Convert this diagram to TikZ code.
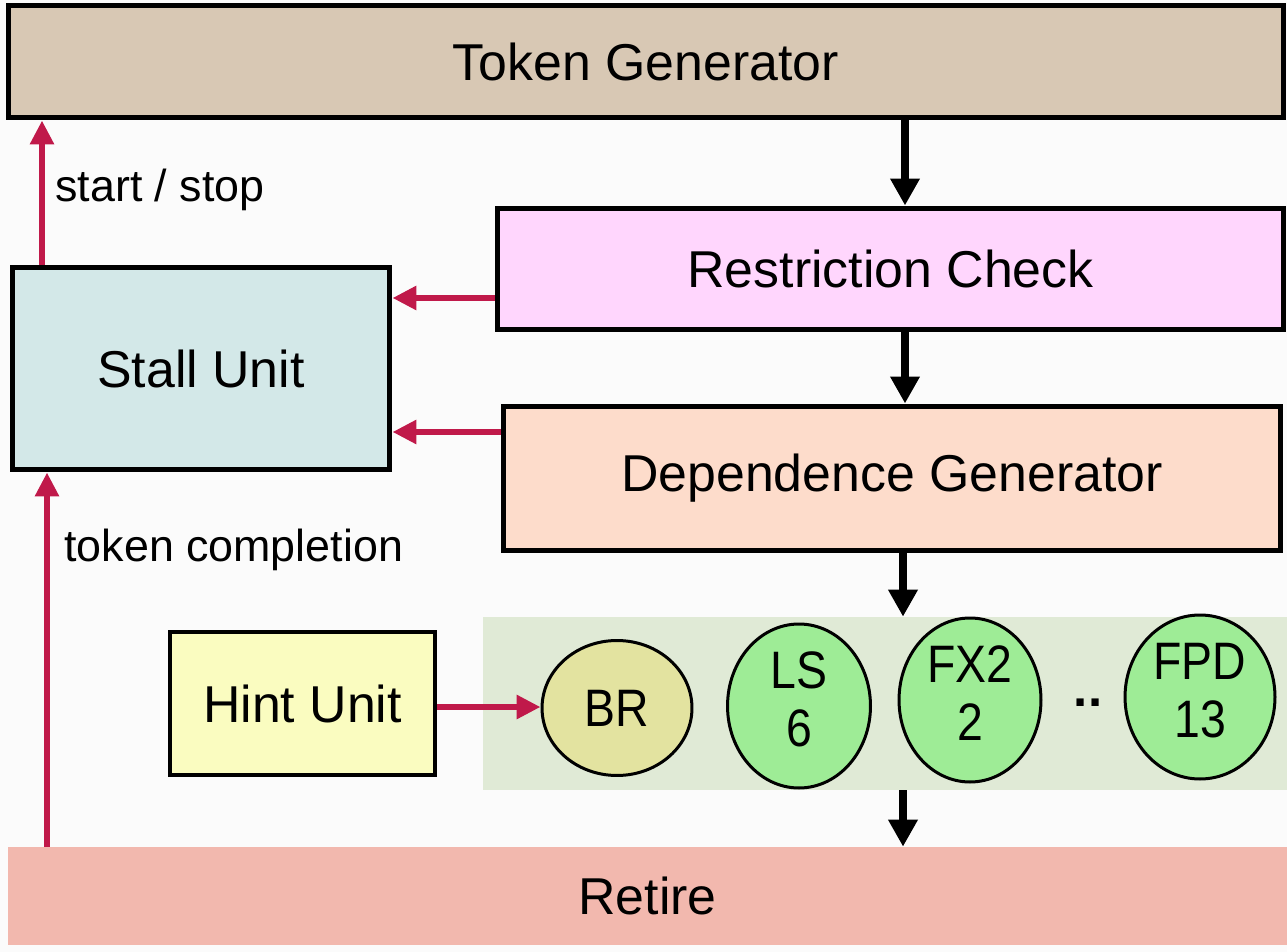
\documentclass[tikz,border=0pt]{standalone}
\usepackage{fontspec}
\setmainfont{Liberation Sans}
\usetikzlibrary{arrows.meta,shapes.geometric}

\definecolor{bgc}{RGB}{251,251,251}
\definecolor{tgfill}{RGB}{216,200,180}
\definecolor{rcfill}{RGB}{255,214,253}
\definecolor{dgfill}{RGB}{253,220,203}
\definecolor{stfill}{RGB}{211,232,232}
\definecolor{hintfill}{RGB}{250,252,192}
\definecolor{panelfill}{RGB}{224,234,214}
\definecolor{retfill}{RGB}{242,184,174}
\definecolor{brfill}{RGB}{227,227,160}
\definecolor{fufill}{RGB}{158,236,150}
\definecolor{sig}{RGB}{192,25,74}

% narrow two-line label for the functional units
\newcommand{\fulabel}[1]{\scalebox{0.88}[1]{\begin{tabular}{@{}c@{}}#1\end{tabular}}}

\begin{document}
\begin{tikzpicture}[x=0.02cm,y=-0.02cm,
  bigfont/.style={font=\fontsize{29.5}{35}\selectfont},
  unitbox/.style={draw=black,line width=0.1cm,inner sep=0pt,bigfont},
  fu/.style={ellipse,draw=black,line width=0.06cm,inner sep=0pt,
             font=\fontsize{30}{33}\selectfont},
  flow/.style={line width=0.16cm,-{Triangle[width=0.56cm,length=0.54cm]}},
  signal/.style={draw=sig,line width=0.13cm,-{Triangle[width=0.46cm,length=0.48cm]}},
  lbl/.style={font=\fontsize{25.5}{30}\selectfont,anchor=west,inner sep=0pt}]

% canvas
\fill[bgc] (0,0) rectangle (1287,952);
\useasboundingbox (0,0) rectangle (1287,952);

% pipeline stages
\node[unitbox,fill=tgfill,minimum width=25.52cm,minimum height=2.26cm] (tg) at (646,61.5) {Token Generator};
\node[unitbox,fill=rcfill,minimum width=15.74cm,minimum height=2.44cm] (rc) at (890.5,269) {Restriction Check};
\node[unitbox,fill=dgfill,minimum width=15.56cm,minimum height=2.9cm] (dg) at (892,478.5) {Dependence Generator};
\node[unitbox,fill=stfill,minimum width=7.56cm,minimum height=4.06cm] (st) at (201,368.5) {Stall Unit};
\node[unitbox,line width=0.08cm,fill=hintfill,minimum width=5.3cm,minimum height=2.86cm] (hint) at (302.5,703.5) {Hint Unit};

% functional-unit panel
\node[fill=panelfill,inner sep=0pt,minimum width=16.08cm,minimum height=3.46cm] (panel) at (885,703.5) {};
\node[fu,fill=brfill,minimum width=3.0cm,minimum height=2.7cm] (br) at (617,708) {\scalebox{0.88}[1]{BR}};
\node[fu,fill=fufill,minimum width=2.86cm,minimum height=2.8cm] (ls) at (799,706) {\fulabel{LS\\6}};
\node[fu,fill=fufill,minimum width=2.84cm,minimum height=2.84cm] (fx) at (970,700) {\fulabel{FX2\\2}};
\node[fu,fill=fufill,minimum width=3.0cm,minimum height=2.8cm] (fpd) at (1200,697) {\fulabel{FPD\\13}};
\node[font=\fontsize{29}{31}\selectfont\bfseries,anchor=base,inner sep=0pt] (dots) at (1088,706) {..};

% retire stage
\node[fill=retfill,inner sep=0pt,minimum width=25.58cm,minimum height=1.96cm,bigfont] (ret) at (647.5,896) {Retire};

% columns and rows for the straight connectors
\coordinate (cmain) at (905,0);
\coordinate (clow) at (903,0);
\coordinate (cstop) at (42,0);
\coordinate (cdone) at (47,0);
\coordinate (rrc) at (0,298);
\coordinate (rdg) at (0,432);
\coordinate (rhint) at (0,707);

% main token flow
\draw[flow] (tg.south -| cmain) -- (rc.north -| cmain);
\draw[flow] (rc.south -| cmain) -- (dg.north -| cmain);
\draw[flow] (dg.south -| clow) -- (panel.north -| clow);
\draw[flow] (panel.south -| clow) -- (ret.north -| clow);

% stall signals
\draw[signal] (rc.west |- rrc) -- (st.east |- rrc);
\draw[signal] (dg.west |- rdg) -- (st.east |- rdg);
\draw[signal] (st.north -| cstop) -- (tg.south -| cstop);
\draw[signal] (ret.north -| cdone) -- (st.south -| cdone);
\draw[signal] (hint.east |- rhint) -- (br.west |- rhint);

% signal labels
\node[lbl] (lstop) at (55,190) {start / stop};
\node[lbl] (ldone) at (64,550) {token completion};
\end{tikzpicture}
\end{document}
